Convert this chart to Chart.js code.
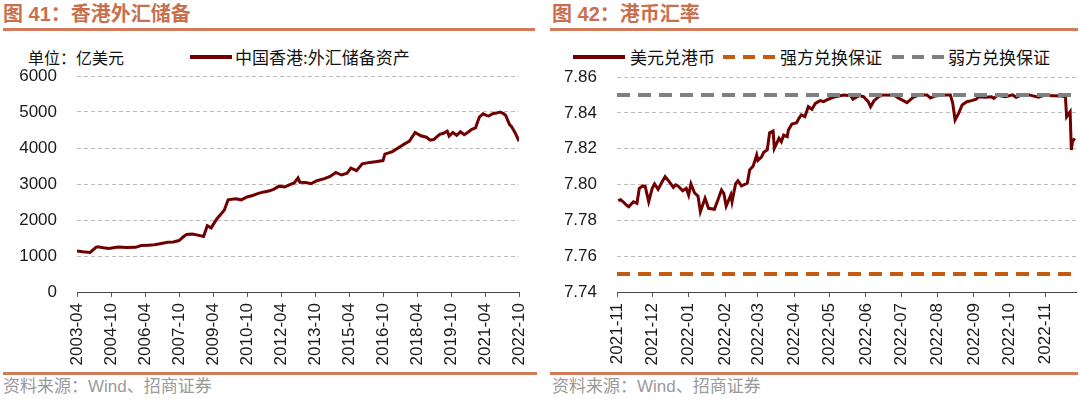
<!DOCTYPE html>
<html><head><meta charset="utf-8">
<script src="https://cdn.jsdelivr.net/npm/chart.js@4/dist/chart.umd.min.js"></script>
<style>
html,body{margin:0;padding:0;background:#fff;}
body{width:1080px;height:399px;position:relative;overflow:hidden;font-family:"Liberation Sans","Noto Sans CJK SC",sans-serif;}
.abs{position:absolute;white-space:nowrap;}
.title{font-weight:bold;font-size:20px;line-height:24px;color:#C8704E;top:2px;}
.rule{position:absolute;height:3px;background:#D27B5B;}
.foot{font-size:17px;line-height:20px;color:#9a9a9a;top:377px;}
.leg{font-size:17px;line-height:20px;color:#111;top:47px;font-family:"Noto Sans CJK SC","Liberation Sans",sans-serif;}
canvas{position:absolute;}
</style></head><body>
<div class="abs title" style="left:3px">图 41：香港外汇储备</div>
<div class="abs title" style="left:552px">图 42：港币汇率</div>
<div class="rule" style="left:3px;width:532px;top:28px"></div>
<div class="rule" style="left:550px;width:528px;top:28px"></div>
<div class="rule" style="left:3px;width:534px;top:372px"></div>
<div class="rule" style="left:550px;width:528px;top:372px"></div>
<div class="abs foot" style="left:3px">资料来源：Wind、招商证券</div>
<div class="abs foot" style="left:552px">资料来源：Wind、招商证券</div>

<div class="abs leg" style="left:28px;font-size:16px">单位：亿美元</div>
<svg class="abs" style="left:190px;top:53px" width="42" height="8"><line x1="0" y1="4" x2="42" y2="4" stroke="#700000" stroke-width="4"/></svg>
<div class="abs leg" style="left:235px">中国香港:外汇储备资产</div>

<svg class="abs" style="left:573px;top:53px" width="52" height="8"><line x1="0" y1="4" x2="52" y2="4" stroke="#700000" stroke-width="4"/></svg>
<div class="abs leg" style="left:630px">美元兑港币</div>
<svg class="abs" style="left:723px;top:53px" width="52" height="8"><line x1="0" y1="4" x2="52" y2="4" stroke="#C55A11" stroke-width="4" stroke-dasharray="12 8"/></svg>
<div class="abs leg" style="left:780px">强方兑换保证</div>
<svg class="abs" style="left:892px;top:53px" width="52" height="8"><line x1="0" y1="4" x2="52" y2="4" stroke="#808080" stroke-width="4" stroke-dasharray="12 8"/></svg>
<div class="abs leg" style="left:948px">弱方兑换保证</div>

<canvas id="c1" width="540" height="307" style="left:0;top:65px"></canvas>
<canvas id="c2" width="540" height="307" style="left:540px;top:65px"></canvas>
<script>
// ---------- Chart 41: HK FX reserves (亿美元) ----------
const reserveMonths = ['2003-04','2003-07','2003-11','2004-02','2004-03','2004-06','2004-09','2004-12','2005-02','2005-06','2005-11','2006-02','2006-06','2006-09','2006-12','2007-04','2007-07','2007-10','2007-12','2008-02','2008-05','2008-08','2008-11','2009-01','2009-03','2009-06','2009-08','2009-10','2009-12','2010-04','2010-07','2010-10','2011-01','2011-04','2011-07','2011-10','2011-12','2012-03','2012-06','2012-09','2012-11','2013-01','2013-02','2013-05','2013-08','2013-11','2014-03','2014-06','2014-09','2014-12','2015-03','2015-05','2015-08','2015-11','2016-03','2016-06','2016-10','2016-11','2017-03','2017-06','2017-09','2017-12','2018-03','2018-06','2018-09','2018-11','2019-01','2019-04','2019-06','2019-08','2019-09','2019-11','2020-01','2020-03','2020-05','2020-07','2020-09','2020-11','2021-01','2021-03','2021-05','2021-06','2021-08','2021-10','2021-12','2022-02','2022-03','2022-05','2022-06','2022-08','2022-10'];
const reserveValues = [1140,1120,1100,1240,1255,1230,1210,1235,1250,1235,1240,1290,1300,1310,1340,1380,1390,1430,1520,1600,1610,1580,1540,1840,1780,2030,2150,2280,2560,2590,2560,2640,2680,2740,2780,2810,2850,2940,2920,2990,3030,3170,3050,3040,3010,3090,3150,3210,3320,3250,3300,3440,3370,3560,3600,3620,3650,3830,3900,4000,4100,4190,4430,4340,4300,4220,4240,4380,4410,4470,4330,4430,4350,4450,4370,4440,4520,4560,4860,4950,4900,4890,4950,4970,5000,4950,4900,4650,4600,4420,4190];
const reserveTicks = ['2003-04','2004-10','2006-04','2007-10','2009-04','2010-10','2012-04','2013-10','2015-04','2016-10','2018-04','2019-10','2021-04','2022-10'];

// ---------- Chart 42: USD/HKD ----------
const fxDates = ['2021-11-02','2021-11-04','2021-11-06','2021-11-09','2021-11-11','2021-11-13','2021-11-15','2021-11-18','2021-11-20','2021-11-23','2021-11-25','2021-11-28','2021-12-01','2021-12-03','2021-12-06','2021-12-09','2021-12-12','2021-12-15','2021-12-19','2021-12-21','2021-12-23','2021-12-27','2021-12-30','2022-01-01','2022-01-03','2022-01-06','2022-01-09','2022-01-11','2022-01-15','2022-01-18','2022-01-23','2022-01-26','2022-01-29','2022-01-31','2022-02-02','2022-02-06','2022-02-07','2022-02-10','2022-02-12','2022-02-15','2022-02-20','2022-02-22','2022-02-25','2022-02-28','2022-03-01','2022-03-04','2022-03-06','2022-03-09','2022-03-11','2022-03-14','2022-03-15','2022-03-19','2022-03-21','2022-03-23','2022-03-26','2022-03-27','2022-03-30','2022-04-03','2022-04-05','2022-04-07','2022-04-10','2022-04-13','2022-04-16','2022-04-19','2022-04-23','2022-04-26','2022-04-30','2022-05-06','2022-05-13','2022-05-19','2022-05-21','2022-05-26','2022-05-30','2022-06-03','2022-06-05','2022-06-08','2022-06-12','2022-06-16','2022-06-25','2022-06-29','2022-07-06','2022-07-12','2022-07-17','2022-07-23','2022-07-26','2022-07-30','2022-08-05','2022-08-12','2022-08-14','2022-08-16','2022-08-19','2022-08-22','2022-08-26','2022-08-30','2022-09-03','2022-09-05','2022-09-11','2022-09-16','2022-09-18','2022-09-21','2022-09-28','2022-10-04','2022-10-07','2022-10-11','2022-10-18','2022-10-26','2022-10-31','2022-11-07','2022-11-15','2022-11-18','2022-11-19','2022-11-21','2022-11-22','2022-11-23','2022-11-24','2022-11-26'];
const fxValues = [7.7910,7.7915,7.7905,7.7885,7.7876,7.7890,7.7904,7.7895,7.7979,7.7992,7.7990,7.7904,7.7979,7.8003,7.7973,7.8010,7.8044,7.8020,7.7984,7.7998,7.7992,7.7965,7.7979,7.7941,7.8003,7.7954,7.7935,7.7848,7.7923,7.7867,7.7862,7.7915,7.7969,7.7950,7.7880,7.7942,7.7904,7.8003,7.8021,7.7992,7.8007,7.8081,7.8103,7.8165,7.8135,7.8153,7.8180,7.8193,7.8289,7.8298,7.8202,7.8258,7.8239,7.8276,7.8267,7.8304,7.8338,7.8345,7.8369,7.8388,7.8379,7.8434,7.8420,7.8453,7.8468,7.8463,7.8476,7.8490,7.8500,7.8496,7.8476,7.8496,7.8490,7.8462,7.8434,7.8468,7.8490,7.8500,7.8498,7.8482,7.8457,7.8490,7.8500,7.8500,7.8483,7.8494,7.8500,7.8500,7.8453,7.8360,7.8397,7.8444,7.8462,7.8468,7.8476,7.8490,7.8487,7.8490,7.8481,7.8498,7.8490,7.8500,7.8487,7.8498,7.8500,7.8487,7.8498,7.8496,7.8494,7.8490,7.8378,7.8397,7.8406,7.8193,7.8240,7.8258];
const strongSide = 7.75;
const weakSide = 7.85;
const fxTicks = ['2021-11','2021-12','2022-01','2022-02','2022-03','2022-04','2022-05','2022-06','2022-07','2022-08','2022-09','2022-10','2022-11'];
const fxRange = ['2021-11-01','2022-11-27'];

const monthIdx = s => { const [y,m] = s.split('-').map(Number); return y*12 + m - 1; };
const m0 = monthIdx(reserveMonths[0]);
const dayIdx = s => { const p = s.split('-').map(Number); return (Date.UTC(p[0], p[1]-1, p[2]||1) - Date.UTC(2021,10,1)) / 86400000; };

const FONT = {family:'"Liberation Sans", Arial, sans-serif', size:17};
const TICKCOL = '#1a1a1a';

function xAxis(min, max, tickVals, tickLabels){
  return {
    type:'linear', min, max,
    afterBuildTicks: sc => { sc.ticks = tickVals.map(v => ({value:v})); },
    afterFit: sc => { sc.height = 80; sc.paddingLeft = 0; sc.paddingRight = 0; },
    ticks:{autoSkip:false, minRotation:90, maxRotation:90, padding:6, font:FONT, color:TICKCOL,
      callback:(v,i) => tickLabels[i]},
    grid:{drawOnChartArea:false, drawTicks:true, tickLength:5, color:'#555', tickWidth:1},
    border:{display:true, color:'#444', width:1, z:1}
  };
}
function yAxis(min, max, step, fmt){
  return {
    min, max,
    afterFit: sc => { sc.width = 77; sc.paddingTop = 0; sc.paddingBottom = 0; },
    ticks:{stepSize:step, padding:20, font:FONT, color:TICKCOL, callback:fmt},
    grid:{display:true, drawOnChartArea:true, drawTicks:false, color:'#bdbdbd', lineWidth:1},
    border:{display:false, dash:[4,3]}
  };
}
const common = {responsive:false, animation:false,
  plugins:{legend:{display:false}, tooltip:{enabled:false}}};

new Chart(document.getElementById('c1'), {
  type:'line',
  data:{datasets:[{
    label:'中国香港:外汇储备资产',
    data: reserveMonths.map((m,i) => ({x: monthIdx(m)-m0, y: reserveValues[i]})),
    borderColor:'#700000', borderWidth:3, pointRadius:0, tension:0, fill:false
  }]},
  options:Object.assign({}, common, {
    layout:{padding:{top:11, right:21, left:0, bottom:0}},
    scales:{
      x: xAxis(0, monthIdx('2022-10')-m0, reserveTicks.map(t => monthIdx(t)-m0), reserveTicks),
      y: yAxis(0, 6000, 1000, v => String(v))
    }
  })
});

new Chart(document.getElementById('c2'), {
  type:'line',
  data:{datasets:[
    {label:'强方兑换保证', data: fxRange.map(d => ({x: dayIdx(d), y: strongSide})),
     borderColor:'#C55A11', borderWidth:4, borderDash:[13,8], pointRadius:0, order:0},
    {label:'弱方兑换保证', data: fxRange.map(d => ({x: dayIdx(d), y: weakSide})),
     borderColor:'#808080', borderWidth:4, borderDash:[13,8], pointRadius:0, order:0},
    {label:'美元兑港币', data: fxDates.map((d,i) => ({x: dayIdx(d), y: fxValues[i]})),
     borderColor:'#700000', borderWidth:3, pointRadius:0, tension:0, order:1}
  ]},
  options:Object.assign({}, common, {
    layout:{padding:{top:12, right:4, left:0, bottom:0}},
    scales:{
      x: xAxis(0, dayIdx(fxRange[1]), fxTicks.map(t => dayIdx(t+'-01')), fxTicks),
      y: yAxis(7.74, 7.86, 0.02, v => Number(v).toFixed(2))
    }
  })
});
</script>
</body></html>
